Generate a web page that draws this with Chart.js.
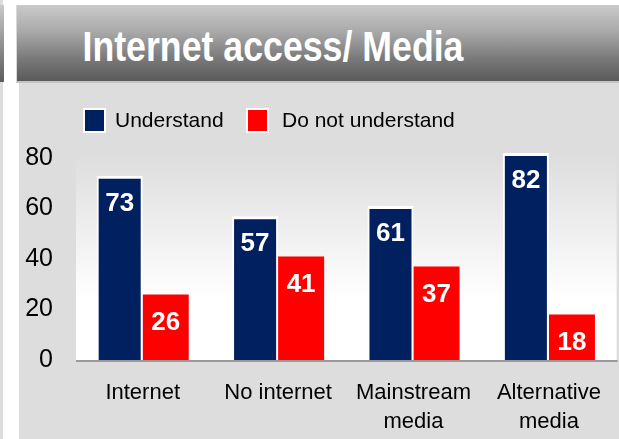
<!DOCTYPE html>
<html>
<head>
<meta charset="utf-8">
<script src="https://cdn.jsdelivr.net/npm/chart.js@4"></script>
<style>
  html, body { margin:0; padding:0; }
  body { width:619px; height:439px; position:relative; overflow:hidden; background:#ffffff; font-family:"Liberation Sans", Arial, sans-serif; }
  #leftStrip { position:absolute; left:0; top:0; width:3px; height:439px; background:#dcdcdc; }
  #leftBanner { position:absolute; left:0; top:5px; width:4px; height:77px; background:linear-gradient(#c9c9c9, #5c5c5c); }
  #panel { position:absolute; left:19px; top:0; width:600px; height:439px; background:#dddddd; }
  #banner { position:absolute; left:16px; top:5px; width:603px; height:76px; background:linear-gradient(#cacaca 0%, #a9a9a9 35%, #7a7a7a 70%, #5a5a5a 100%); border-bottom:2px solid #c4c4c4; border-left:1px solid #d8d8d8; }
  #title { position:absolute; left:0; top:18px; width:512px; text-align:center; color:#ffffff; font-weight:bold; font-size:42px; line-height:48px; transform:scaleX(0.85); transform-origin:256px 0; white-space:nowrap; }
  #topWhite { position:absolute; left:16px; top:0; width:603px; height:5px; background:#ffffff; }
  canvas { position:absolute; left:0; top:0; }
</style>
</head>
<body>
<div id="leftStrip"></div>
<div id="leftBanner"></div>
<div id="panel"></div>
<div id="topWhite"></div>
<div id="banner"><div id="title">Internet access/ Media</div></div>
<canvas id="c" width="619" height="439"></canvas>
<script>
const categories = [["Internet"], ["No internet"], ["Mainstream", "media"], ["Alternative", "media"]];
const understand = [73, 57, 61, 82];
const notUnderstand = [26, 41, 37, 18];
const seriesNames = ["Understand", "Do not understand"];
const seriesColors = ["#002060", "#ff0000"];
const yTicks = [0, 20, 40, 60, 80];

const FONT = "'Liberation Sans', Arial, sans-serif";

const bgPlugin = {
  id: 'plotBg',
  beforeDatasetsDraw(chart) {
    const {ctx, chartArea, scales} = chart;
    const top = scales.y.getPixelForValue(80);
    const g = ctx.createLinearGradient(0, top, 0, chartArea.bottom);
    g.addColorStop(0, '#dedede');
    g.addColorStop(0.7, '#ffffff');
    g.addColorStop(1, '#ffffff');
    ctx.save();
    ctx.fillStyle = g;
    ctx.fillRect(chartArea.left + 1, top, chartArea.right - chartArea.left - 1, chartArea.bottom - top);
    ctx.restore();
  },
  afterDatasetsDraw(chart) {
    const {ctx, chartArea} = chart;
    ctx.save();
    // axis line
    ctx.strokeStyle = '#999999';
    ctx.lineWidth = 2;
    ctx.beginPath();
    ctx.moveTo(chartArea.left + 1, chartArea.bottom + 1);
    ctx.lineTo(chartArea.right + 1, chartArea.bottom + 1);
    ctx.stroke();
    // value labels
    ctx.fillStyle = '#ffffff';
    ctx.font = 'bold 26px ' + FONT;
    ctx.textAlign = 'center';
    ctx.textBaseline = 'middle';
    chart.data.datasets.forEach((ds, di) => {
      const meta = chart.getDatasetMeta(di);
      meta.data.forEach((bar, i) => {
        ctx.fillText(String(ds.data[i]), bar.x, bar.y + 28);
      });
    });
    // legend
    const items = [
      {box: 83, text: 115},
      {box: 246, text: 282}
    ];
    ctx.font = '21px ' + FONT;
    ctx.textAlign = 'left';
    chart.data.datasets.forEach((ds, di) => {
      const it = items[di];
      ctx.fillStyle = '#ffffff';
      ctx.fillRect(it.box, 108, 23, 25);
      ctx.fillStyle = ds.backgroundColor;
      ctx.fillRect(it.box + 2, 110, 19, 21);
      ctx.fillStyle = '#000000';
      ctx.fillText(ds.label, it.text, 121);
    });
    ctx.restore();
  }
};

new Chart(document.getElementById('c'), {
  type: 'bar',
  data: {
    labels: categories,
    datasets: [
      { label: seriesNames[0], data: understand, backgroundColor: seriesColors[0], borderColor: '#ffffff', borderWidth: {top:3, left:2, right:2, bottom:0}, borderSkipped: 'bottom' },
      { label: seriesNames[1], data: notUnderstand, backgroundColor: seriesColors[1], borderColor: '#ffffff', borderWidth: 0 }
    ]
  },
  options: {
    responsive: false,
    animation: false,
    devicePixelRatio: 1,
    layout: { padding: { top: 148, right: 1, left: 0, bottom: 0 } },
    datasets: { bar: { categoryPercentage: 0.68, barPercentage: 1.0 } },
    plugins: { legend: { display: false }, title: { display: false }, tooltip: { enabled: false } },
    scales: {
      x: {
        grid: { display: false, tickLength: 0 },
        border: { display: false },
        ticks: { color: '#000000', font: { family: FONT, size: 22, lineHeight: 1.32 }, padding: 18, maxRotation: 0, autoSkip: false },
        afterFit(s) { s.height = 79; }
      },
      y: {
        min: 0, max: 84,
        grid: { display: false, tickLength: 0 },
        border: { display: false },
        afterBuildTicks(s) { s.ticks = yTicks.map(v => ({ value: v })); },
        ticks: { color: '#000000', font: { family: FONT, size: 25 }, padding: 22 },
        afterFit(s) { s.width = 75; }
      }
    }
  },
  plugins: [bgPlugin]
});
</script>
</body>
</html>
